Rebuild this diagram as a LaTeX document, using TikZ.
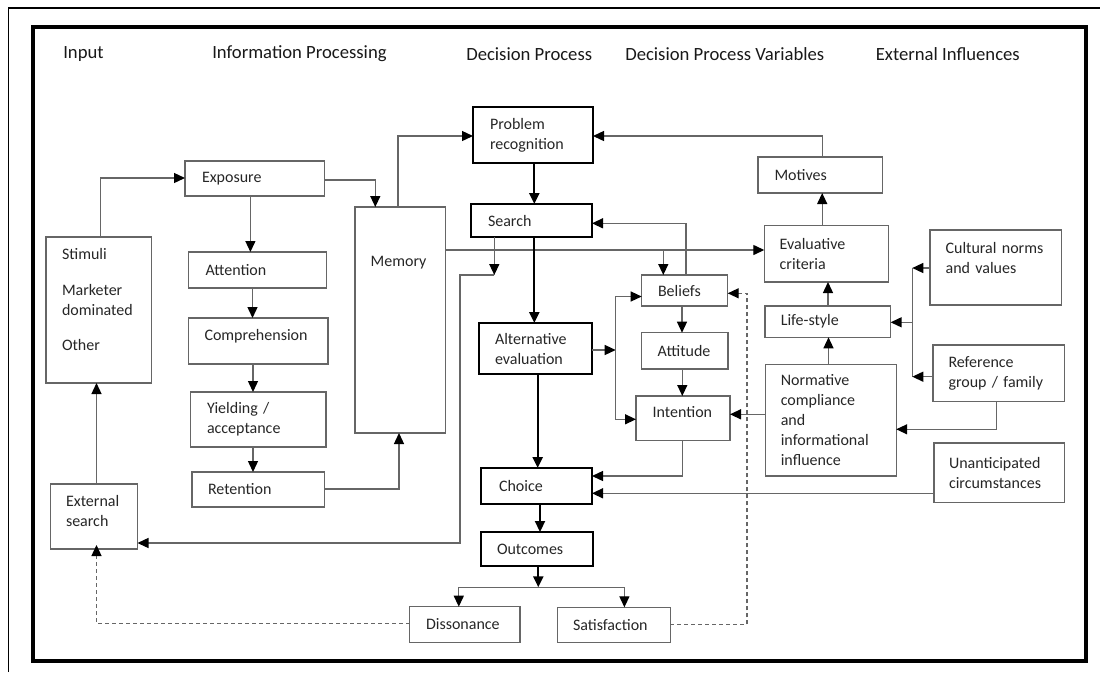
\documentclass[tikz,border=0pt]{standalone}
\usepackage{fontspec}
\setmainfont{Carlito}
\usetikzlibrary{arrows.meta}
\newdimen\px
\px=0.75pt
\begin{document}
\begin{tikzpicture}[x=0.75pt,y=-0.75pt,
  >={Triangle[length=8.25pt,width=7.5pt,color=black]},
  box/.style={draw=black!60, line width=1pt, anchor=north west, align=left, inner ysep=0pt, outer sep=0pt, text=black!85, font=\fontsize{12}{15}\selectfont},
  dbox/.style={box, draw=black, line width=1.65pt},
  hdr/.style={anchor=west, inner sep=0pt, text=black!90, font=\fontsize{14}{17}\selectfont},
  ln/.style={draw=black!60, line width=1pt, ->},
  plainln/.style={draw=black!60, line width=1pt},
  thk/.style={draw=black, line width=1.65pt, ->},
  dln/.style={ln, dash pattern=on 3pt off 2.25pt}
]
\useasboundingbox (0,0) rectangle (1100,672);
% frames
\draw[line width=0.9pt] (8.4,672) -- (8.4,8) -- (1100,8);
\draw[line width=3pt] (33,27.2) rectangle (1086.3,661);
% headers
\node[hdr] (h1) at (63,54) {Input};
\node[hdr] (h2) at (212,54) {Information Processing};
\node[hdr] (h3) at (466,54) {Decision Process};
\node[hdr] (h4) at (625,54) {Decision Process Variables};
\node[hdr] (h5) at (875.5,54) {External Influences};
% boxes
\node[box, inner xsep=16\px, text width=73.5\px, minimum height=146\px] (stim) at (46,237) {Stimuli\\[12pt]Marketer\\[0pt]dominated\\[11.25pt]Other\\[0.75pt]\mbox{}};
\node[box, inner xsep=15.5\px, text width=56\px, minimum height=65\px] (ext) at (50.5,484) {External\\search\\[-6.75pt]\mbox{}};
\node[box, inner xsep=17\px, text width=105.5\px, minimum height=35\px] (expo) at (185,161) {Exposure};
\node[box, inner xsep=16.8\px, text width=104.2\px, minimum height=36\px] (att) at (188.7,252) {Attention};
\node[box, inner xsep=16.1\px, text width=107.4\px, minimum height=46\px] (comp) at (188.4,318) {Comprehension\\[-6pt]\mbox{}};
\node[box, inner xsep=16.2\px, text width=102.8\px, minimum height=55\px] (yield) at (190.8,392) {Yielding /\\acceptance};
\node[box, inner xsep=16\px, text width=100.5\px, minimum height=35\px] (ret) at (192,472) {Retention};
\node[box, inner xsep=15.7\px, text width=59\px, minimum height=226\px] (mem) at (355,207) {Memory\\[73.5pt]\mbox{}};
\node[dbox, inner xsep=17\px, text width=86\px, minimum height=56\px] (pr) at (473,107) {Problem\\recognition};
\node[dbox, inner xsep=17\px, text width=87\px, minimum height=33\px] (srch) at (471,204) {Search};
\node[dbox, inner xsep=16\px, text width=81\px, minimum height=51\px] (ae) at (479,323) {Alternative\\evaluation};
\node[dbox, inner xsep=18\px, text width=75\px, minimum height=36\px] (choice) at (481,468) {Choice};
\node[dbox, inner xsep=16\px, text width=80\px, minimum height=34\px] (outc) at (481,532) {Outcomes};
\node[box, inner xsep=16.3\px, text width=77.7\px, minimum height=35.6\px] (diss) at (409.7,606.7) {Dissonance};
\node[box, inner xsep=15.3\px, text width=82\px, minimum height=35.4\px] (sat) at (557.7,607.3) {Satisfaction};
\node[box, inner xsep=16.3\px, text width=53.4\px, minimum height=31\px] (bel) at (641.7,275) {Beliefs};
\node[box, inner xsep=16\px, text width=54.3\px, minimum height=36.3\px] (atti) at (641.7,332.7) {Attitude};
\node[box, inner xsep=16.7\px, text width=60.6\px, minimum height=44.7\px] (intn) at (636,396) {Intention\\[-5.25pt]\mbox{}};
\node[box, inner xsep=16.5\px, text width=91.5\px, minimum height=36\px] (mot) at (758,157) {Motives};
\node[box, inner xsep=15.4\px, text width=93.4\px, minimum height=56.3\px] (evc) at (764.3,225.7) {Evaluative\\criteria};
\node[box, inner xsep=15.6\px, text width=100.5\px, minimum height=75\px] (cult) at (930,230) {Cultural norms\\and values\\[0pt]\mbox{}};
\node[box, inner xsep=15.8\px, text width=94\px, minimum height=31.3\px] (life) at (765,306) {Life-style};
\node[box, inner xsep=15.4\px, text width=100\px, minimum height=111.7\px] (norm) at (765.4,364.3) {Normative\\compliance\\and\\informational\\influence};
\node[box, inner xsep=15.5\px, text width=100.2\px, minimum height=56.3\px] (ref) at (933,345) {Reference\\group / family};
\node[box, inner xsep=15\px, text width=100.2\px, minimum height=59.7\px] (unan) at (934,443) {Unanticipated\\circumstances};
% named junctions
\coordinate (membr) at (663.3,250);
\coordinate (sx) at (494.3,275);
\coordinate (split) at (538.3,587.3);
\coordinate (aej) at (615.7,350);
\coordinate (vt) at (912.3,268);
\coordinate (vm) at (912.3,322.3);
\coordinate (vb) at (912.3,376.7);
% information processing
\draw[ln] (stim.north -| 100.7,0) |- (expo.west |- 0,178);
\draw[ln] (expo.east |- 0,180) -| (mem.north -| 375.3,0);
\draw[ln] (expo.south -| 250.4,0) -- (att.north -| 250.4,0);
\draw[ln] (att.south -| 252.5,0) -- (comp.north -| 252.5,0);
\draw[ln] (comp.south -| 253,0) -- (yield.north -| 253,0);
\draw[ln] (yield.south -| 253,0) -- (ret.north -| 253,0);
\draw[ln] (ret.east |- 0,489) -| (mem.south -| 399,0);
\draw[ln] (mem.north -| 398,0) |- (pr.west |- 0,136);
\draw[ln] (mem.east |- 0,250) -- (evc.west |- 0,250);
\draw[ln] (membr) -- (bel.north -| membr);
\draw[ln] (ext.north -| 96.5,0) -- (stim.south -| 96.5,0);
% search to external search
\draw[ln] (srch.south -| sx) -- (sx);
\draw[ln] (sx) -| (460,543) -- (ext.east |- 0,543);
% decision process
\draw[thk] (pr.south -| 534.3,0) -- (srch.north -| 534.3,0);
\draw[thk] (srch.south -| 534.3,0) -- (ae.north -| 534.3,0);
\draw[thk] (ae.south -| 537.7,0) -- (choice.north -| 537.7,0);
\draw[thk] (choice.south -| 540,0) -- (outc.north -| 540,0);
\draw[thk] (outc.south -| split) -- (split);
\draw[ln] (split) -| (diss.north -| 458.8,0);
\draw[ln] (split) -| (sat.north -| 624.4,0);
\draw[dln, shorten >=-3pt] (diss.west |- 0,623.7) -| (ext.south -| 96.5,0);
\draw[dln] (sat.east |- 0,624.7) -| (747,293.3) -- (bel.east |- 0,293.3);
% decision process variables
\draw[ln] (bel.north -| 686,0) |- (srch.east |- 0,223.3);
\draw[ln] (bel.south -| 682,0) -- (atti.north -| 682,0);
\draw[ln] (atti.south -| 682.3,0) -- (intn.north -| 682.3,0);
\draw[ln] (ae.east |- aej) -- (aej);
\draw[ln] (aej) |- (bel.west |- 0,296.5);
\draw[ln] (aej) |- (intn.west |- 0,419.3);
\draw[ln] (intn.south -| 682.3,0) |- (choice.east |- 0,476);
\draw[ln] (unan.west |- 0,493.3) -- (choice.east |- 0,493.3);
\draw[ln] (norm.west |- 0,414.3) -- (intn.east |- 0,414.3);
\draw[ln] (norm.north -| 828.5,0) -- (life.south -| 828.5,0);
\draw[ln] (life.north -| 828,0) -- (evc.south -| 828,0);
\draw[ln] (evc.north -| 822.2,0) -- (mot.south -| 822.2,0);
\draw[ln] (mot.north -| 822.5,0) |- (pr.east |- 0,136);
% external influences
\draw[ln] (cult.west |- vt) -- (vt);
\draw[plainln] (vt) -- (vb);
\draw[ln] (ref.west |- vb) -- (vb);
\draw[ln] (vm) -- (life.east |- vm);
\draw[ln] (ref.south -| 996.2,0) |- (norm.east |- 0,429.3);
\end{tikzpicture}
\end{document}
